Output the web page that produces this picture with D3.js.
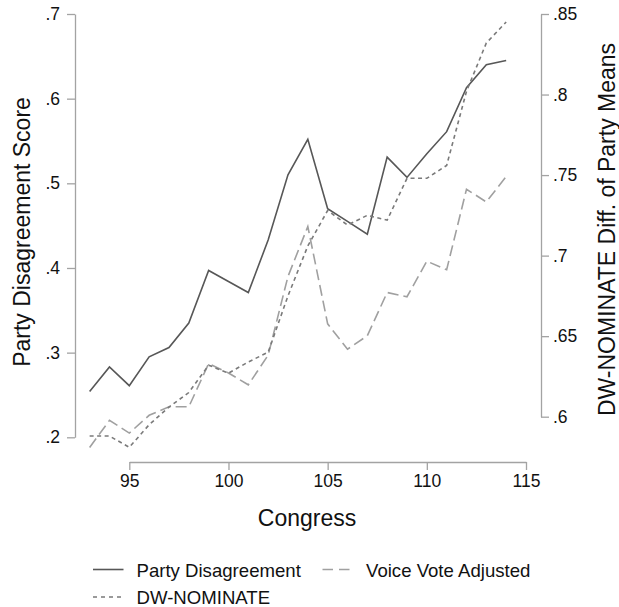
<!DOCTYPE html>
<html>
<head>
<meta charset="utf-8">
<script src="https://cdn.jsdelivr.net/npm/d3@7"></script>
<style>
  html, body { margin: 0; padding: 0; background: #fff; }
  svg { display: block; font-family: "Liberation Sans", Arial, Helvetica, sans-serif; }
</style>
</head>
<body>
<svg id="chart" width="619" height="607"></svg>
<script>
// Congress numbers (x axis)
const congress = [93, 94, 95, 96, 97, 98, 99, 100, 101, 102, 103, 104, 105, 106, 107, 108, 109, 110, 111, 112, 113, 114];

// Party disagreement score (left axis)
const partyDisagreement = [0.254, 0.283, 0.261, 0.295, 0.306, 0.335, 0.397, 0.384, 0.371, 0.433, 0.510, 0.552, 0.470, 0.455, 0.440, 0.531, 0.507, 0.535, 0.561, 0.613, 0.640, 0.645];

// Voice-vote adjusted disagreement score (left axis)
const voiceVoteAdjusted = [0.188, 0.220, 0.205, 0.226, 0.236, 0.236, 0.287, 0.276, 0.262, 0.297, 0.390, 0.449, 0.334, 0.304, 0.320, 0.371, 0.366, 0.408, 0.398, 0.493, 0.478, 0.508];

// DW-NOMINATE difference of party means (right axis)
const dwNominate = [0.588, 0.588, 0.581, 0.595, 0.606, 0.615, 0.632, 0.627, 0.634, 0.640, 0.675, 0.706, 0.728, 0.719, 0.725, 0.722, 0.748, 0.748, 0.756, 0.802, 0.832, 0.845];

// Axis ticks
const xTicks = [95, 100, 105, 110, 115];
const leftTicks = [0.2, 0.3, 0.4, 0.5, 0.6, 0.7];
const rightTicks = [0.6, 0.65, 0.7, 0.75, 0.8, 0.85];

const svg = d3.select("#chart");

const x = d3.scaleLinear().domain([95, 115]).range([129.3, 526]);
const yL = d3.scaleLinear().domain([0.2, 0.7]).range([437.3, 14]);
const yR = d3.scaleLinear().domain([0.6, 0.85]).range([416.7, 14]);

const axisColor = "#a3a3a3";
const tickFont = 17.5;
const noLeadZero = f => d => d3.format(f)(d).replace(/^0\./, ".");

function styleAxis(g) {
  g.selectAll("path.domain").attr("stroke", axisColor).attr("stroke-width", 1.3);
  g.selectAll(".tick line").attr("stroke", axisColor).attr("stroke-width", 1.3);
  g.selectAll(".tick text").attr("fill", "#111").style("font-size", tickFont + "px")
    .style("font-family", '"Liberation Sans", Arial, Helvetica, sans-serif');
}

// Left axis
svg.append("g")
  .attr("transform", "translate(75,0)")
  .call(d3.axisLeft(yL).tickValues(leftTicks).tickFormat(noLeadZero(".1f")).tickSize(8).tickSizeOuter(0).tickPadding(7))
  .call(styleAxis);

// Right axis
svg.append("g")
  .attr("transform", "translate(541,0)")
  .call(d3.axisRight(yR).tickValues(rightTicks).tickFormat(noLeadZero(".2~f")).tickSize(8).tickSizeOuter(0).tickPadding(4))
  .call(styleAxis);

// Bottom axis
svg.append("g")
  .attr("transform", "translate(0,462)")
  .call(d3.axisBottom(x).tickValues(xTicks).tickFormat(d3.format("d")).tickSize(8).tickSizeOuter(0).tickPadding(5))
  .call(styleAxis);

// Axis titles
svg.append("text")
  .attr("transform", "translate(30,232) rotate(-90)")
  .attr("text-anchor", "middle")
  .style("font-size", "23px")
  .attr("fill", "#111")
  .text("Party Disagreement Score");

svg.append("text")
  .attr("transform", "translate(615,229.5) rotate(-90)")
  .attr("text-anchor", "middle")
  .style("font-size", "23px")
  .attr("fill", "#111")
  .text("DW-NOMINATE Diff. of Party Means");

svg.append("text")
  .attr("x", 307)
  .attr("y", 526)
  .attr("text-anchor", "middle")
  .style("font-size", "23px")
  .attr("fill", "#111")
  .text("Congress");

// Series lines
const series = [
  { name: "Party Disagreement", values: partyDisagreement, y: yL, color: "#575757", dash: null, width: 1.6 },
  { name: "Voice Vote Adjusted", values: voiceVoteAdjusted, y: yL, color: "#a0a0a0", dash: "11,5", width: 1.6 },
  { name: "DW-NOMINATE", values: dwNominate, y: yR, color: "#7a7a7a", dash: "4,3.5", width: 1.6 }
];

series.forEach(s => {
  const line = d3.line()
    .x((d, i) => x(congress[i]))
    .y(d => s.y(d));
  svg.append("path")
    .datum(s.values)
    .attr("fill", "none")
    .attr("stroke", s.color)
    .attr("stroke-width", s.width)
    .attr("stroke-linejoin", "miter")
    .attr("stroke-dasharray", s.dash)
    .attr("d", line);
});

// Legend
const legendItems = [
  { s: series[0], x: 93, y: 569.5, dash: null },
  { s: series[1], x: 322.5, y: 569.5, dash: "10.5,6" },
  { s: series[2], x: 93, y: 597, dash: "4,4" }
];

legendItems.forEach(it => {
  svg.append("line")
    .attr("x1", it.x).attr("x2", it.x + 30.5)
    .attr("y1", it.y).attr("y2", it.y)
    .attr("stroke", it.s.color)
    .attr("stroke-width", it.s.width)
    .attr("stroke-dasharray", it.dash);
  svg.append("text")
    .attr("x", it.x + 43.5)
    .attr("y", it.y + 7)
    .style("font-size", "18.6px")
    .attr("fill", "#111")
    .text(it.s.name);
});
</script>
</body>
</html>
